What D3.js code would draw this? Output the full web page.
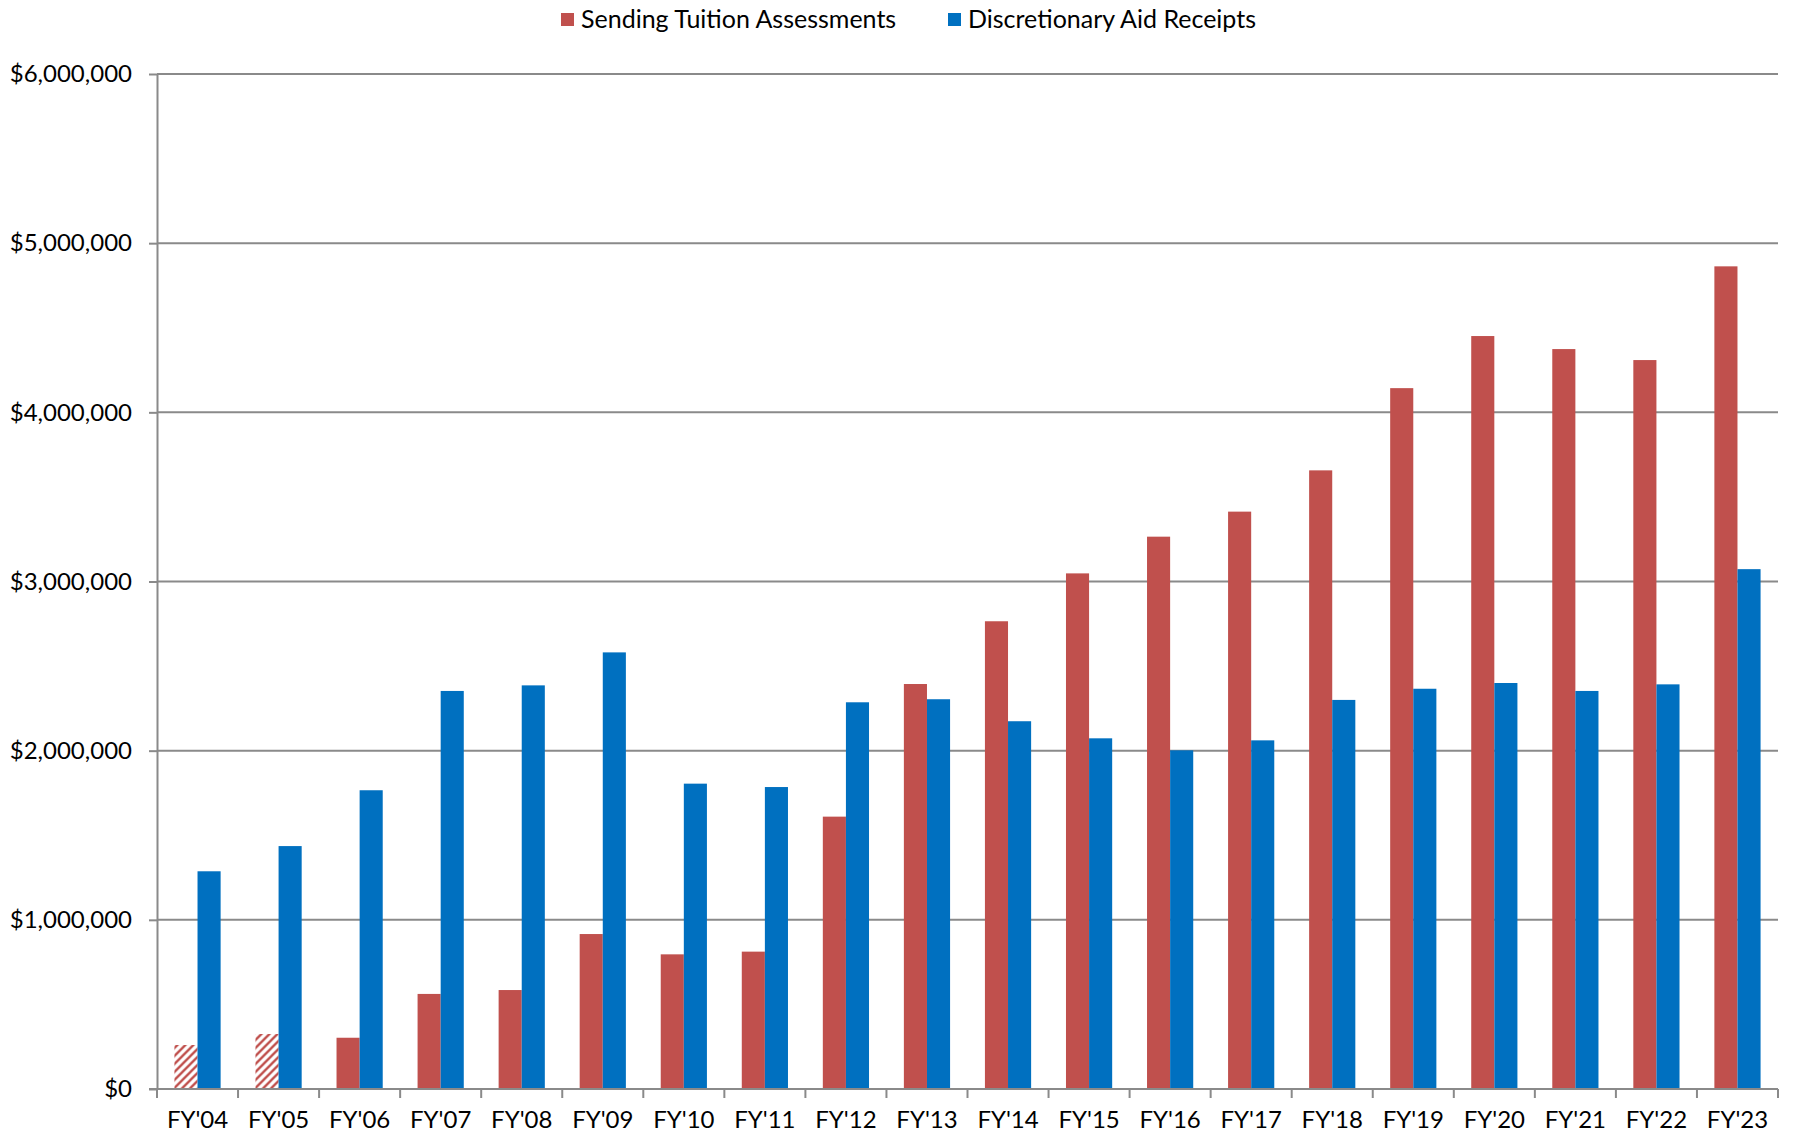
<!DOCTYPE html>
<html>
<head>
<meta charset="utf-8">
<script src="https://cdn.jsdelivr.net/npm/d3@7"></script>
<style>
  html, body { margin: 0; padding: 0; background: #fff; }
  svg { display: block; font-family: Lato, "Open Sans", sans-serif; }
</style>
</head>
<body>
<svg id="chart" width="1803" height="1140"></svg>
<script>
// Fiscal years shown along the x axis
const years = ["FY'04","FY'05","FY'06","FY'07","FY'08","FY'09","FY'10","FY'11","FY'12","FY'13",
               "FY'14","FY'15","FY'16","FY'17","FY'18","FY'19","FY'20","FY'21","FY'22","FY'23"];

// Sending tuition assessments, dollars
const tuition = [260000, 325000, 303000, 562000, 585000, 916000, 796000, 812000, 1610000, 2394000,
                 2765000, 3048000, 3265000, 3413000, 3657000, 4143000, 4451000, 4374000, 4309000, 4863000];

// Discretionary aid receipts, dollars
const aid = [1287000, 1436000, 1766000, 2353000, 2386000, 2581000, 1805000, 1785000, 2286000, 2304000,
             2174000, 2073000, 2002000, 2061000, 2300000, 2366000, 2400000, 2353000, 2392000, 3073000];

// Years whose tuition figure is an estimate (drawn hatched)
const estimatedYears = ["FY'04", "FY'05"];

const seriesNames = ["Sending Tuition Assessments", "Discretionary Aid Receipts"];
const seriesColors = ["#C0504D", "#0070C0"];
const yTicks = [0, 1000000, 2000000, 3000000, 4000000, 5000000, 6000000];

const svg = d3.select("#chart");
const plotLeft = 157, plotRight = 1778, plotTop = 74, plotBottom = 1089;
const gridColor = "#8a8a8a";

const x0 = d3.scaleBand().domain(years).range([plotLeft, plotRight])
  .paddingInner(0.43).paddingOuter(0.215);
const x1 = d3.scaleBand().domain([0, 1]).range([0, x0.bandwidth()]).padding(0);
const y = d3.scaleLinear().domain([0, 6000000]).range([plotBottom, plotTop]);

// Hatch pattern for estimated values
const defs = svg.append("defs");
const hp = 8;
const pat = defs.append("pattern")
  .attr("id", "hatch").attr("patternUnits", "userSpaceOnUse")
  .attr("width", hp).attr("height", hp);
pat.append("path")
  .attr("d", `M-2,2 L2,-2 M0,${hp} L${hp},0 M${hp - 2},${hp + 2} L${hp + 2},${hp - 2}`)
  .attr("stroke", seriesColors[0]).attr("stroke-width", 2.4);

// Horizontal gridlines
svg.append("g").selectAll("line").data(yTicks.filter(d => d > 0)).join("line")
  .attr("x1", plotLeft).attr("x2", plotRight)
  .attr("y1", d => y(d)).attr("y2", d => y(d))
  .attr("stroke", gridColor).attr("stroke-width", 2);

// Bars
const rows = years.map((yr, i) => ({ yr, vals: [tuition[i], aid[i]] }));
const groups = svg.append("g").selectAll("g").data(rows).join("g")
  .attr("transform", d => `translate(${x0(d.yr)},0)`);
groups.selectAll("rect").data(d => d.vals.map((v, k) => ({ v, k, yr: d.yr }))).join("rect")
  .attr("x", d => x1(d.k))
  .attr("width", x1.bandwidth())
  .attr("y", d => y(d.v))
  .attr("height", d => y(0) - y(d.v))
  .attr("fill", d => (d.k === 0 && estimatedYears.includes(d.yr)) ? "url(#hatch)" : seriesColors[d.k]);

// Y axis
const yAxis = d3.axisLeft(y).tickValues(yTicks).tickFormat(d3.format("$,.0f"))
  .tickSizeInner(8).tickSizeOuter(0).tickPadding(17);
const yg = svg.append("g").attr("transform", `translate(${plotLeft},0)`).call(yAxis);
yg.select(".domain").attr("stroke", gridColor).attr("stroke-width", 2);
yg.selectAll(".tick line").attr("stroke", gridColor).attr("stroke-width", 2);
yg.selectAll(".tick text").attr("font-size", 24).attr("fill", "#000")
  .attr("font-family", "Lato, sans-serif");

// X axis: labels at band centres, tick marks at category boundaries
const step = x0.step();
const xAxis = d3.axisBottom(x0).tickSize(0).tickPadding(22);
const xg = svg.append("g").attr("transform", `translate(0,${plotBottom})`).call(xAxis);
xg.select(".domain").remove();
xg.selectAll(".tick text").attr("font-size", 24).attr("fill", "#000")
  .attr("font-family", "Lato, sans-serif");
svg.append("line").attr("x1", plotLeft - 8).attr("x2", plotRight)
  .attr("y1", plotBottom).attr("y2", plotBottom)
  .attr("stroke", gridColor).attr("stroke-width", 2);
svg.append("g").selectAll("line").data(d3.range(years.length + 1)).join("line")
  .attr("x1", i => plotLeft + i * step).attr("x2", i => plotLeft + i * step)
  .attr("y1", plotBottom).attr("y2", plotBottom + 9)
  .attr("stroke", gridColor).attr("stroke-width", 2);

// Legend
const legendX = [561, 948];
const lg = svg.append("g").selectAll("g").data(seriesNames).join("g")
  .attr("transform", (d, i) => `translate(${legendX[i]},13)`);
lg.append("rect").attr("width", 13).attr("height", 13)
  .attr("fill", (d, i) => seriesColors[i]);
lg.append("text").attr("x", 20).attr("y", 6.5).attr("dy", "0.35em")
  .attr("font-size", 25).attr("fill", "#000").text(d => d);
</script>
</body>
</html>
